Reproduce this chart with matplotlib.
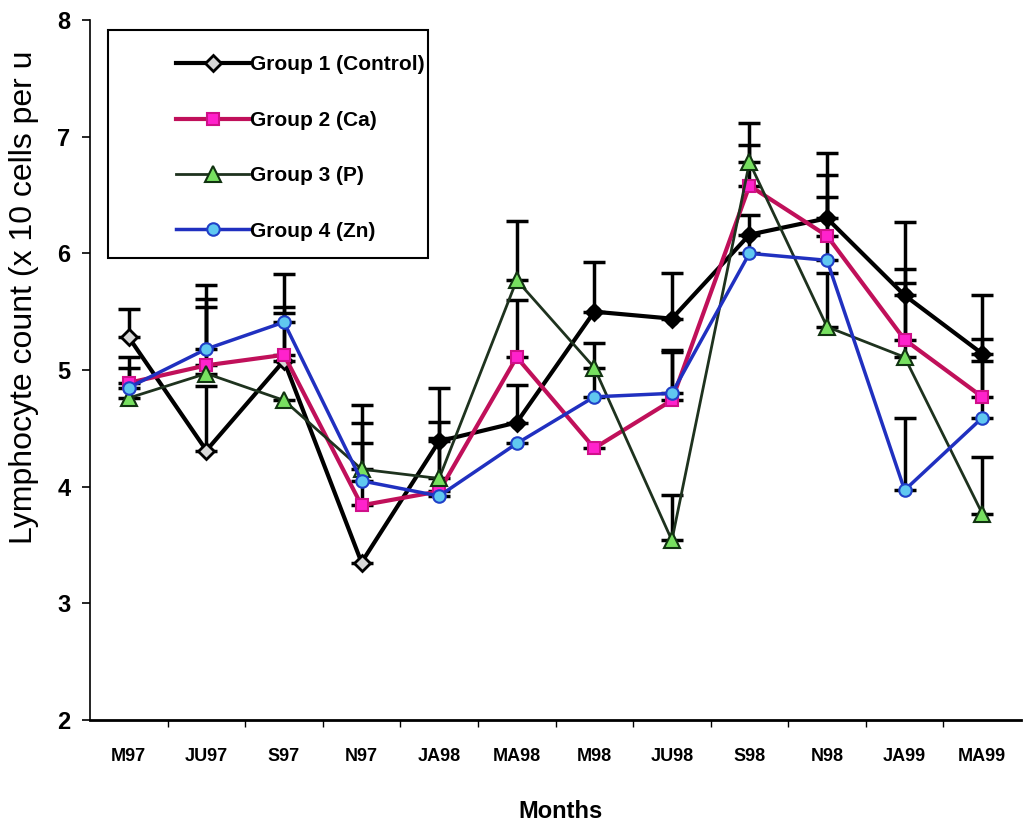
import numpy as np
import matplotlib.pyplot as plt
from matplotlib.patches import Rectangle

plt.rcParams['font.family'] = ['Liberation Sans', 'DejaVu Sans']

months = ['M97', 'JU97', 'S97', 'N97', 'JA98', 'MA98', 'M98', 'JU98', 'S98', 'N98', 'JA99', 'MA99']

# medias por grupo
g1 = [5.28, 4.31, 5.08, 3.35, 4.39, 4.55, 5.50, 5.44, 6.16, 6.30, 5.64, 5.14]
g2 = [4.89, 5.04, 5.13, 3.84, 3.96, 5.11, 4.33, 4.74, 6.58, 6.15, 5.26, 4.77]
g3 = [4.76, 4.97, 4.74, 4.15, 4.07, 5.77, 5.02, 3.54, 6.78, 5.37, 5.11, 3.77]
g4 = [4.85, 5.18, 5.41, 4.05, 3.92, 4.37, 4.77, 4.80, 6.00, 5.94, 3.97, 4.59]

# error superior (nan = sin barra)
nan = np.nan
e1 = [0.24, 0.55, 0.41, nan, 0.46, 0.32, 0.43, 0.39, nan, 0.56, 0.63, 0.50]
e2 = [0.22, 0.57, 0.41, 0.53, 0.46, 0.49, nan, 0.41, 0.35, 0.52, 0.61, 0.50]
e3 = [nan, 0.57, nan, 0.55, 0.48, 0.51, nan, 0.39, 0.34, 0.46, 0.64, 0.48]
e4 = [0.17, 0.55, 0.41, 0.50, nan, nan, 0.46, 0.37, 0.33, 0.54, 0.62, 0.49]

x = np.arange(len(months))

fig = plt.figure(figsize=(10.24, 8.26), dpi=100)
ax = fig.add_axes([90/1024, 1 - 720/826, 931/1024, 700/826])

# barras de error (solo hacia arriba)
for y, e in [(g1, e1), (g2, e2), (g3, e3), (g4, e4)]:
    e = np.array(e)
    ax.errorbar(x, y, yerr=[np.zeros_like(e), e], fmt='none', ecolor='black',
                elinewidth=2.5, capsize=8, capthick=2.5, zorder=2)

ax.plot(x, g1, color='black', lw=3, marker='D', ms=8, mfc='#d8d8d8', mec='black',
        mew=2, label='Group 1 (Control)', zorder=3)
ax.plot(x[4:], g1[4:], ls='none', marker='o', ms=9, mfc='black', mec='black', zorder=3)
ax.plot(x, g2, color='#c0105a', lw=3, marker='s', ms=9, mfc='#ff22cc', mec='#d0108a',
        mew=1.5, label='Group 2 (Ca)', zorder=4)
ax.plot(x, g3, color='#1e321e', lw=2, marker='^', ms=11, mfc='#77e060', mec='#113311',
        mew=1.5, label='Group 3 (P)', zorder=4)
ax.plot(x, g4, color='#2030c0', lw=2.5, marker='o', ms=9, mfc='#60c8f0', mec='#2040c8',
        mew=1.5, label='Group 4 (Zn)', zorder=5)

ax.set_xlim(-0.5, len(months) - 0.5)
ax.set_ylim(2, 8)
ax.set_yticks(range(2, 9))
ax.set_xticks(x)
ax.set_xticklabels(months, fontsize=13, fontweight='bold')
ax.set_xticks(x[:-1] + 0.5, minor=True)
ax.tick_params(axis='x', which='major', length=0, pad=20)
ax.tick_params(axis='x', which='minor', length=5, width=1, direction='out')
ax.tick_params(axis='y', labelsize=17, length=6, width=1.2, pad=8)
for lab in ax.get_yticklabels():
    lab.set_fontweight('bold')

for s in ['top', 'right']:
    ax.spines[s].set_visible(False)
ax.spines['left'].set_linewidth(1.2)
ax.spines['bottom'].set_linewidth(2)

ax.set_ylabel('Lymphocyte count (x 10 cells per u', fontsize=23)
ax.yaxis.set_label_coords(-0.055, 0.604)
ax.set_xlabel('Months', fontsize=17, fontweight='bold')
ax.xaxis.set_label_coords(0.505, -0.115)

# recuadro de la leyenda
fig.patches.append(Rectangle((108/1024, 1 - 258/826), 320/1024, 228/826,
                             transform=fig.transFigure, fill=False,
                             edgecolor='black', lw=1.5))
fig.legend(loc='upper left', bbox_to_anchor=(166/1024, 1 - 45/826), frameon=False,
           borderpad=0, handlelength=3.5, handletextpad=0.05, labelspacing=1.75,
           prop={'size': 15, 'weight': 'bold'})

plt.savefig('out.png', dpi=100)
